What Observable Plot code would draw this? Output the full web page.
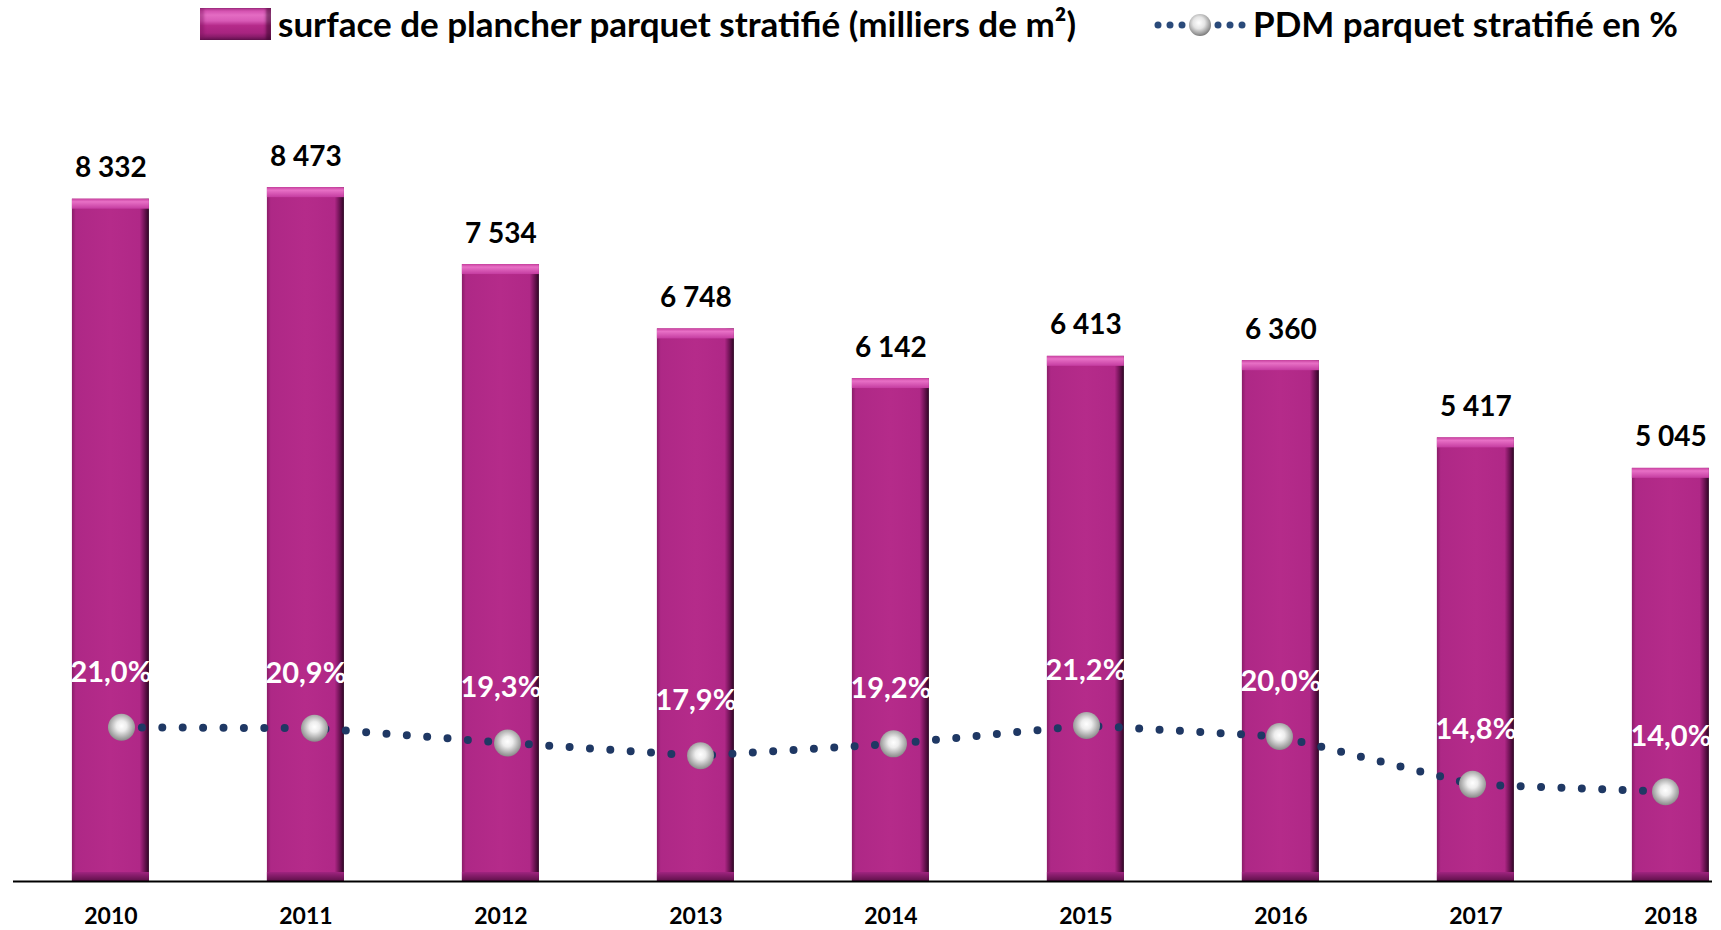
<!DOCTYPE html>
<html>
<head>
<meta charset="utf-8">
<script src="https://cdn.jsdelivr.net/npm/d3@7"></script>
<script src="https://cdn.jsdelivr.net/npm/@observablehq/plot@0.6"></script>
<style>
  body { margin: 0; background: #fff; font-family: Lato, "Open Sans", sans-serif; }
  #page { position: relative; width: 1721px; height: 930px; overflow: hidden; }
  #legend { position: relative; height: 60px; }
  #legend .txt { position: absolute; font-family: Lato, sans-serif; font-weight: 700; font-size: 35px; line-height: 35px; color: #000; white-space: nowrap; }
  #swatch { position: absolute; left: 200px; top: 8px; width: 71px; height: 32px;
    background: linear-gradient(180deg, #c83ea2 0%, #e46cc3 22%, #d85ab6 40%, #b52a8a 55%, #a82480 78%, #6e1558 100%);
    box-shadow: inset -5px 0 3px rgba(40,0,30,0.5), inset 4px 0 3px rgba(120,20,90,0.4); }
  #chart { position: relative; height: 870px; }
  #chart svg { position: absolute; left: 0; top: 0; }
</style>
</head>
<body>
<div id="page">
  <div id="legend">
    <div id="swatch"></div>
    <span class="txt" style="left:278px; top:6px;">surface de plancher parquet stratifié (milliers de m²)</span>
    <svg style="position:absolute; left:1152px; top:12px;" width="96" height="26">
      <defs>
        <radialGradient id="sphereL" cx="45%" cy="40%" r="60%">
          <stop offset="0" stop-color="#ffffff"/>
          <stop offset="0.45" stop-color="#e4e4e4"/>
          <stop offset="0.85" stop-color="#9a9a9a"/>
          <stop offset="1" stop-color="#7a7a7a"/>
        </radialGradient>
      </defs>
      <g fill="#2a4a7a">
        <circle cx="6" cy="13" r="3.5"/><circle cx="18" cy="13" r="3.5"/><circle cx="30" cy="13" r="3.5"/>
        <circle cx="66" cy="13" r="3.5"/><circle cx="78" cy="13" r="3.5"/><circle cx="90" cy="13" r="3.5"/>
      </g>
      <circle cx="48" cy="13" r="11" fill="url(#sphereL)"/>
    </svg>
    <span class="txt" style="left:1253px; top:6px;">PDM parquet stratifié en %</span>
  </div>
  <div id="chart"></div>
</div>
<script>
// ---- data ----
const years = ["2010", "2011", "2012", "2013", "2014", "2015", "2016", "2017", "2018"];
const surface = [8332, 8473, 7534, 6748, 6142, 6413, 6360, 5417, 5045];
const pdm = [21.0, 20.9, 19.3, 17.9, 19.2, 21.2, 20.0, 14.8, 14.0];

const rows = years.map((year, i) => ({year, surface: surface[i], pdm: pdm[i]}));

const fmtSurface = v => d3.format(",")(v).replace(/,/g, " ");
const fmtPct = v => v.toFixed(1).replace(".", ",") + "%";

const W = 1721, H = 870;
const baseStyle = {fontFamily: "Lato, 'Open Sans', sans-serif", background: "transparent", overflow: "visible"};

// ---- line + points on the secondary axes (separate overlay chart) ----
const line = Plot.plot({
  width: W, height: H,
  marginLeft: 121, marginRight: 56, marginTop: 630, marginBottom: 10,
  x: {type: "point", domain: years, padding: 0, axis: null},
  y: {domain: [0, 25], axis: null},
  style: baseStyle,
  marks: [
    Plot.line(rows, {x: "year", y: "pdm", stroke: "#1f3864", strokeWidth: 8,
      strokeDasharray: "0 20.4", strokeLinecap: "round"}),
    Plot.dot(rows, {x: "year", y: "pdm", r: 13.5, fill: "url(#sphere)", stroke: "none"})
  ]
});
d3.select(line).insert("defs", ":first-child").html(`
  <radialGradient id="sphere" cx="50%" cy="45%" r="55%">
    <stop offset="0" stop-color="#ffffff"/>
    <stop offset="0.35" stop-color="#ededed"/>
    <stop offset="0.8" stop-color="#a8a8a8"/>
    <stop offset="1" stop-color="#8a8a8a"/>
  </radialGradient>
`);

// secondary (percent) scale -> pixel -> primary scale units, for the percent labels
const pctScale = line.scale("y");
const pctPx = d3.scaleLinear(pctScale.domain, pctScale.range);
const yDomain = [0, 9000];
const mTop = 84, mBottom = 49;
const barPx = d3.scaleLinear(yDomain, [H - mBottom, mTop]);
const pctInBarUnits = v => barPx.invert(pctPx(v));

// ---- bars ----
const bars = Plot.plot({
  width: W, height: H,
  marginLeft: 13, marginRight: 9, marginTop: mTop, marginBottom: mBottom,
  x: {domain: years, paddingInner: 0.605, paddingOuter: 0.159, align: 0.95, round: false, axis: null},
  y: {domain: yDomain, axis: null},
  style: baseStyle,
  marks: [
    Plot.barY(rows, {x: "year", y: "surface", fill: "url(#barBody)"}),
    Plot.barY(rows, {x: "year", y1: "surface", y2: "surface", insetBottom: -10, fill: "url(#barTop)"}),
    Plot.barY(rows, {x: "year", y1: 0, y2: 0, insetTop: -9, fill: "url(#barBottom)"}),
    Plot.ruleY([0], {stroke: "#000", strokeWidth: 2}),
    Plot.text(rows, {x: "year", y: "surface", text: d => fmtSurface(d.surface), dy: -31,
      fontSize: 28, fontWeight: 700, fill: "#000"}),
    Plot.text(rows, {x: "year", y: d => pctInBarUnits(d.pdm), text: d => fmtPct(d.pdm), dy: -55,
      fontSize: 29, fontWeight: 700, fill: "#ffffff"}),
    Plot.axisX({tickSize: 0, tickPadding: 26, fontSize: 23, fontWeight: 700, label: null, color: "#000"})
  ]
});

d3.select(bars).insert("defs", ":first-child").html(`
  <linearGradient id="barBody" x1="0" y1="0" x2="1" y2="0">
    <stop offset="0" stop-color="#8a1c68"/>
    <stop offset="0.05" stop-color="#ae2886"/>
    <stop offset="0.5" stop-color="#b52b8a"/>
    <stop offset="0.88" stop-color="#b02887"/>
    <stop offset="0.93" stop-color="#7c175f"/>
    <stop offset="1" stop-color="#2e0524"/>
  </linearGradient>
  <linearGradient id="barTop" x1="0" y1="0" x2="0" y2="1">
    <stop offset="0" stop-color="#c8409f"/>
    <stop offset="0.3" stop-color="#e870c6"/>
    <stop offset="1" stop-color="#c43ca0"/>
  </linearGradient>
  <linearGradient id="barBottom" x1="0" y1="0" x2="0" y2="1">
    <stop offset="0" stop-color="#a02480"/>
    <stop offset="1" stop-color="#5e1049"/>
  </linearGradient>
`);

document.getElementById("chart").append(bars, line);
</script>
</body>
</html>
